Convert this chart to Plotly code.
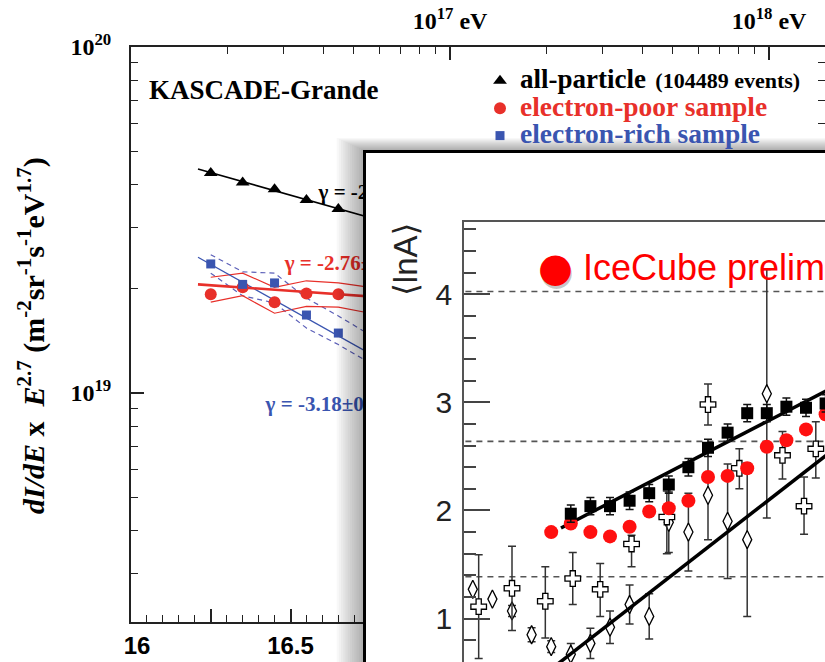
import numpy as np
import plotly.graph_objects as go

W, H = 825, 662

# ---------------- KASCADE-Grande spectrum (main panel) ----------------
kg_lgE = [16.25, 16.35, 16.45, 16.55, 16.65]
all_flux = [4.32e19, 4.06e19, 3.88e19, 3.61e19, 3.40e19]
poor_flux = [1.93e19, 2.02e19, 1.83e19, 1.94e19, 1.93e19]
rich_flux = [2.36e19, 2.06e19, 2.08e19, 1.68e19, 1.49e19]

band_lgE = [16.25, 16.35, 16.45, 16.55, 16.65, 16.75]
poor_band_hi = [2.16e19, 2.22e19, 2.02e19, 2.11e19, 2.08e19, 2.02e19]
poor_band_lo = [1.83e19, 1.91e19, 1.70e19, 1.78e19, 1.77e19, 1.70e19]
rich_band_hi = [2.51e19, 2.24e19, 2.22e19, 1.88e19, 1.67e19, 1.47e19]
rich_band_lo = [2.22e19, 1.91e19, 1.82e19, 1.54e19, 1.38e19, 1.22e19]

fit_lgE = [16.21, 17.0]
fit_ref_lgE = 16.5
fit_norm = {"all": 3.73e19, "poor": 1.973e19, "rich": 1.748e19}
fit_gamma = {"all": -2.96, "poor": -2.765, "rich": -3.216}
gamma_labels = ["γ = -2.95±0.05", "γ = -2.76±0.09", "γ = -3.18±0.08"]

main_xticks = [16, 16.25, 16.5, 16.75, 17, 17.25, 17.5, 17.75, 18]
main_xticktext = ["\u200216", "", "16.5", "", "17", "", "17.5", "", "18"]
top_major = [17, 18]
top_major_text = ["<b>10<sup>17</sup> eV</b>", "<b>10<sup>18</sup> eV</b>"]

# ---------------- IceCube <lnA> inset ----------------
ic_lgE = [15.45, 15.55, 15.65, 15.75, 15.85, 15.95, 16.05, 16.15, 16.25, 16.35,
          16.45, 16.55, 16.65, 16.75, 16.85]
ic_lnA = [1.80, 1.88, 1.80, 1.76, 1.85, 1.99, 2.02, 2.09, 2.31, 2.32,
          2.39, 2.59, 2.65, 2.75, 2.89]

sq_lgE = [15.55, 15.65, 15.75, 15.85, 15.95, 16.05, 16.15, 16.25, 16.35, 16.45,
          16.55, 16.65, 16.75, 16.85]
sq_lnA = [1.97, 2.04, 2.04, 2.09, 2.16, 2.24, 2.40, 2.58, 2.72, 2.90,
          2.90, 2.96, 2.95, 2.99]
sq_err = [0.08] * 14

cross_lgE = [15.08, 15.25, 15.42, 15.56, 15.70, 15.86, 16.04, 16.25, 16.41, 16.63, 16.74, 16.80]
cross_lnA = [1.11, 1.28, 1.16, 1.37, 1.27, 1.69, 1.94, 2.98, 2.39, 2.51, 2.04, 2.57]
cross_err_hi = [0.48, 0.39, 0.32, 0.24, 0.24, 0.08, 0.24, 0.19, 0.18, 0.22, 0.27, 0.25]
cross_err_lo = [0.48, 0.39, 0.34, 0.24, 0.25, 0.21, 0.34, 0.19, 0.19, 0.22, 0.26, 0.27]

dia_lgE = [15.05, 15.15, 15.25, 15.35, 15.45, 15.55, 15.65, 15.75, 15.85, 15.95,
           16.05, 16.15, 16.25, 16.35, 16.45, 16.55]
dia_lnA = [1.27, 1.18, 1.07, 0.85, 0.74, 0.67, 0.77, 0.92, 1.13, 1.02,
           1.89, 1.80, 2.14, 1.90, 1.73, 3.08]
dia_err = [0.0, 0.0, 0.05, 0.065, 0.055, 0.10, 0.14, 0.15, 0.18, 0.21,
           0.28, 0.36, 0.41, 0.53, 0.71, 1.15]

upper_fit = {"lgE0": 15.5, "lnA0": 1.838, "slope": 0.937, "lgE_end": 17.0}
lower_fit = {"lgE0": 15.5, "lnA0": 0.603, "slope": 1.41, "lgE_start": 15.2, "lgE_end": 17.0}
mass_lines = [np.log(4), np.log(14), np.log(56)]

RED = "#e8302a"
BLUE = "#3a55b0"
BLUE_D = "#5b5fb8"

fig = go.Figure()


def fit_curve(key):
    x = np.array(fit_lgE)
    return x, fit_norm[key] * 10 ** ((fit_gamma[key] + 2.7) * (x - fit_ref_lgE))


# main-panel lines
for hi, lo, col, dash in [(rich_band_hi, rich_band_lo, BLUE_D, "5px,4px"),
                          (poor_band_hi, poor_band_lo, RED, None)]:
    for arr in (hi, lo):
        fig.add_trace(go.Scatter(x=band_lgE, y=arr, mode="lines", showlegend=False,
                                 line=dict(color=col, width=1.2, dash=dash),
                                 xaxis="x", yaxis="y", hoverinfo="skip"))

for key, col, wd in [("all", "black", 1.6), ("rich", BLUE, 1.3), ("poor", RED, 2.6)]:
    fx, fy = fit_curve(key)
    fig.add_trace(go.Scatter(x=fx, y=fy, mode="lines", showlegend=False,
                             line=dict(color=col, width=wd), xaxis="x", yaxis="y"))

legend_names = [
    "<b><span style='font-size:27px'>all-particle</span>  "
    "<span style='font-size:22px'>(104489 events)</span></b>",
    "<b><span style='font-size:27.5px;color:" + RED + "'>electron-poor sample</span></b>",
    "<b><span style='font-size:27.5px;color:" + BLUE + "'>electron-rich sample</span></b>",
]
fig.add_trace(go.Scatter(x=kg_lgE, y=all_flux, mode="markers", name=legend_names[0],
                         marker=dict(symbol="triangle-up", size=12, color="black"),
                         xaxis="x", yaxis="y"))
fig.add_trace(go.Scatter(x=kg_lgE, y=poor_flux, mode="markers", name=legend_names[1],
                         marker=dict(symbol="circle", size=12, color=RED),
                         xaxis="x", yaxis="y"))
fig.add_trace(go.Scatter(x=kg_lgE, y=rich_flux, mode="markers", name=legend_names[2],
                         marker=dict(symbol="square", size=9, color=BLUE),
                         xaxis="x", yaxis="y"))

# gamma labels (text traces so that the inset covers them)
lab_pos_x = [16.588, 16.482, 16.422]
lab_pos_y = [3.77e19, 2.34e19, 9.2e18]
lab_col = ["black", RED, BLUE]
for t, lx, ly, c in zip(gamma_labels, lab_pos_x, lab_pos_y, lab_col):
    fig.add_trace(go.Scatter(x=[lx], y=[ly], mode="text", text=["<b>" + t + "</b>"],
                             textposition="middle right", showlegend=False,
                             textfont=dict(family="Liberation Serif", size=21, color=c),
                             xaxis="x", yaxis="y"))

# empty traces so that the top energy axis and the inset frame are created
fig.add_trace(go.Scatter(x=[], y=[], mode="lines", showlegend=False, xaxis="x2", yaxis="y"))
fig.add_trace(go.Scatter(x=[], y=[], mode="lines", showlegend=False, xaxis="x3", yaxis="y3"))

# ---------------- inset traces ----------------
for v in mass_lines:
    fig.add_trace(go.Scatter(x=[14.9, 17.2], y=[v, v], mode="lines", showlegend=False,
                             line=dict(color="#555", width=1.6, dash="6px,5px"),
                             xaxis="x4", yaxis="y4"))

fig.add_trace(go.Scatter(x=dia_lgE, y=dia_lnA, mode="markers", showlegend=False,
                         marker=dict(symbol="diamond-tall", size=13, color="white",
                                     line=dict(color="black", width=1.3)),
                         error_y=dict(type="data", array=dia_err, color="#333",
                                      thickness=1.5, width=4),
                         xaxis="x4", yaxis="y4"))
fig.add_trace(go.Scatter(x=cross_lgE, y=cross_lnA, mode="markers", showlegend=False,
                         marker=dict(symbol="cross", size=13, color="white",
                                     line=dict(color="black", width=1.3)),
                         error_y=dict(type="data", symmetric=False, array=cross_err_hi,
                                      arrayminus=cross_err_lo, color="#333",
                                      thickness=1.5, width=4),
                         xaxis="x4", yaxis="y4"))

ux = np.array([upper_fit["lgE0"], upper_fit["lgE_end"]])
uy = upper_fit["lnA0"] + upper_fit["slope"] * (ux - upper_fit["lgE0"])
lx = np.array([lower_fit["lgE_start"], lower_fit["lgE_end"]])
ly = lower_fit["lnA0"] + lower_fit["slope"] * (lx - lower_fit["lgE0"])
for xx, yy in [(ux, uy), (lx, ly)]:
    fig.add_trace(go.Scatter(x=xx, y=yy, mode="lines", showlegend=False,
                             line=dict(color="black", width=3.5),
                             xaxis="x4", yaxis="y4"))

fig.add_trace(go.Scatter(x=ic_lgE, y=ic_lnA, mode="markers", showlegend=False,
                         marker=dict(symbol="circle", size=14, color="#ff1010"),
                         error_y=dict(type="data", array=[0.03] * len(ic_lgE),
                                      color="#ff1010", thickness=1.2, width=4),
                         xaxis="x4", yaxis="y4"))
fig.add_trace(go.Scatter(x=sq_lgE, y=sq_lnA, mode="markers", showlegend=False,
                         marker=dict(symbol="square", size=12, color="black"),
                         error_y=dict(type="data", array=sq_err, color="#111",
                                      thickness=1.5, width=4),
                         xaxis="x4", yaxis="y4"))

# ---------------- layout ----------------
minor_top = [np.log10(k * 10.0 ** n) for n in (16, 17, 18) for k in range(2, 10)]
minor_y = [k * 10.0 ** n for n in (18, 19) for k in range(2, 10)]

axfont_serif = dict(family="Liberation Serif", size=24, color="black")
x_lo, px_per_dec = 131.0, 319.0
x_range = [16.0, 16.0 + (W - x_lo) / px_per_dec]

shapes = []
# drop shadow of the inset box (left and top strips)
for i in range(1, 13):
    wl = 2.2 * i
    tt = 1.0 * i
    a = 0.026
    shapes.append(dict(type="rect", xref="paper", yref="paper", layer="above",
                       x0=(363 - wl) / W, x1=363 / W, y0=0, y1=(H - 150 + tt) / H,
                       line=dict(width=0), fillcolor=f"rgba(0,0,0,{a})"))
    shapes.append(dict(type="rect", xref="paper", yref="paper", layer="above",
                       x0=363 / W, x1=1, y0=(H - 150) / H, y1=(H - 150 + tt) / H,
                       line=dict(width=0), fillcolor=f"rgba(0,0,0,{a})"))

annotations = [
    dict(text="<b>KASCADE-Grande</b>", x=147 / W, y=(H - 90) / H, xref="paper", yref="paper",
         xanchor="left", yanchor="middle", showarrow=False,
         font=dict(family="Liberation Serif", size=27, color="black")),
    dict(text="<b><i>dI/dE</i> x  <i>E</i><sup>2.7</sup> (m<sup>-2</sup>sr<sup>-1</sup>s<sup>-1</sup>eV<sup>1.7</sup>)</b>",
         x=31 / W, y=(H - 336) / H, xref="paper", yref="paper", textangle=-90,
         xanchor="center", yanchor="middle", showarrow=False,
         font=dict(family="Liberation Serif", size=30, color="black")),
    dict(text="⟨lnA⟩", x=406 / W, y=(H - 260) / H, xref="paper", yref="paper", textangle=-90,
         xanchor="center", yanchor="middle", showarrow=False,
         font=dict(family="Liberation Sans, DejaVu Sans", size=33, color="#222")),
    dict(text="●", x=555 / W, y=(H - 267) / H, xref="paper", yref="paper", xshift=1.5, yshift=-2.5,
         xanchor="center", yanchor="middle", showarrow=False,
         font=dict(family="DejaVu Sans", size=40, color="rgba(0,0,0,0.22)")),
    dict(text="●", x=555 / W, y=(H - 267) / H, xref="paper", yref="paper",
         xanchor="center", yanchor="middle", showarrow=False,
         font=dict(family="DejaVu Sans", size=40, color="#ff0000")),
    dict(text="IceCube preliminary", x=581 / W, y=(H - 267) / H, xref="paper", yref="paper",
         xanchor="left", yanchor="middle", showarrow=False,
         font=dict(family="Liberation Sans", size=36, color="#ff0000")),
]

fig.update_layout(
    width=W, height=H, margin=dict(l=0, r=0, t=0, b=0, autoexpand=False),
    paper_bgcolor="white", plot_bgcolor="white",
    showlegend=True,
    legend=dict(x=480 / W, y=(H - 62) / H, xanchor="left", yanchor="top",
                bgcolor="rgba(0,0,0,0)", font=dict(family="Liberation Serif", size=18.8, color="black"),
                itemwidth=30, tracegroupgap=0),
    xaxis=dict(domain=[x_lo / W, 1.0], range=x_range, anchor="y",
               tickmode="array", tickvals=main_xticks, ticktext=["<b>" + t + "</b>" if t else "" for t in main_xticktext],
               ticks="inside", ticklen=13, tickwidth=1.5, tickcolor="#222",
               minor=dict(dtick=0.05, tick0=16, ticks="inside", ticklen=7, tickwidth=1.3, tickcolor="#222"),
               showline=True, linewidth=2, linecolor="#222", showgrid=False, zeroline=False,
               tickfont=dict(family="Liberation Sans", size=24, color="black"), ticklabelstandoff=1),
    xaxis2=dict(overlaying="x", side="top", anchor="y", range=x_range,
                tickmode="array", tickvals=top_major, ticktext=top_major_text,
                ticks="inside", ticklen=13, tickwidth=1.5, tickcolor="#222",
                minor=dict(tickvals=minor_top, ticks="inside", ticklen=7, tickwidth=1.3, tickcolor="#222"),
                showline=True, linewidth=2, linecolor="#222", showgrid=False, zeroline=False,
                tickfont=axfont_serif, ticklabelstandoff=6),
    yaxis=dict(type="log", domain=[40 / H, (H - 47) / H], range=[18.338, 20.0], anchor="x",
               tickmode="array", tickvals=[1e19, 1e20],
               ticktext=["<b>10<sup>19</sup></b>", "<b>10<sup>20</sup></b>"],
               ticks="inside", ticklen=13, tickwidth=1.5, tickcolor="#222", mirror="ticks",
               minor=dict(tickvals=minor_y, ticks="inside", ticklen=7, tickwidth=1.3, tickcolor="#222"),
               showline=True, linewidth=2, linecolor="#222", showgrid=False, zeroline=False,
               tickfont=axfont_serif, ticklabelstandoff=13),
    xaxis3=dict(domain=[366 / W, 1.0], anchor="y3", range=[0, 1], showline=True, linewidth=2.6,
                linecolor="black", mirror=True, showticklabels=False, ticks="", showgrid=False,
                zeroline=False),
    yaxis3=dict(domain=[0, (H - 153) / H], anchor="x3", range=[0, 1], showline=True, linewidth=2.6,
                linecolor="black", mirror=False, showticklabels=False, ticks="", showgrid=False,
                zeroline=False),
    xaxis4=dict(domain=[464 / W, 1.0], anchor="y4",
                range=[15.0 + 1 / 196.0, 15.0 + (W - 463) / 196.0],
                showline=True, mirror=True, linewidth=1.5, linecolor="#555",
                showticklabels=False, ticks="", showgrid=False, zeroline=False),
    yaxis4=dict(domain=[0, (H - 222.25) / H], anchor="x4", range=[0.598, 4.6665],
                tickmode="array", tickvals=[1, 2, 3, 4], ticktext=["1", "2", "3", "4"],
                ticks="inside", ticklen=26, tickwidth=1.5, tickcolor="#444",
                minor=dict(dtick=0.2, tick0=0, ticks="inside", ticklen=12, tickwidth=1.5, tickcolor="#444"),
                showline=True, linewidth=1.5, linecolor="#555", showgrid=False, zeroline=False,
                tickfont=dict(family="Liberation Sans", size=30, color="#222"), ticklabelstandoff=4),
    shapes=shapes,
    annotations=annotations,
)

fig.write_html("out.html")
